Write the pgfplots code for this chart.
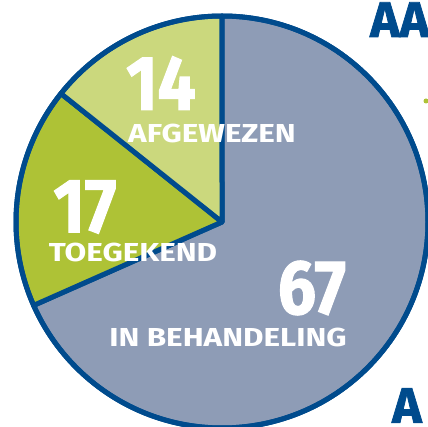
\documentclass[border=0pt]{standalone}
\usepackage{pgfplots}
\pgfplotsset{compat=1.18}
\usepackage{fontspec}
\setmainfont{Fira Sans}
\newfontfamily\heavy{Fira Sans Bold}[FakeBold=1.5]
\definecolor{pblue}{HTML}{004B8D}
\definecolor{pgrey}{HTML}{8E9CB6}
\definecolor{pgreen}{HTML}{AEC236}
\definecolor{plight}{HTML}{CBD87D}
\begin{document}
\begin{tikzpicture}
% data
\def\vA{67}% in behandeling
\def\vB{17}% toegekend
\def\vC{14}% afgewezen
\pgfmathsetmacro\tot{\vA+\vB+\vC}
\pgfmathsetmacro\aA{90}
\pgfmathsetmacro\aB{\aA-\vA/\tot*360}
\pgfmathsetmacro\aC{\aB-\vB/\tot*360}
\pgfmathsetmacro\aD{\aC-\vC/\tot*360}
\begin{axis}[scale only axis, width=428bp, height=427bp,
  xmin=0, xmax=428, ymin=0, ymax=427, hide axis, clip=true]
\addplot[draw=none] coordinates {(0,0) (428,427)};
\filldraw[fill=pgrey, draw=pblue, line width=5bp, line join=round]
  (axis cs:222,205) -- ++(\aA:206bp) arc[start angle=\aA, end angle=\aB, radius=206bp] -- cycle;
\filldraw[fill=pgreen, draw=pblue, line width=5bp, line join=round]
  (axis cs:222,205) -- ++(\aB:206bp) arc[start angle=\aB, end angle=\aC, radius=206bp] -- cycle;
\filldraw[fill=plight, draw=pblue, line width=5bp, line join=round]
  (axis cs:222,205) -- ++(\aC:206bp) arc[start angle=\aC, end angle=\aD, radius=206bp] -- cycle;
\draw[pblue, line width=5bp] (axis cs:222,205) circle[radius=206bp];
% labels
\node[white, inner sep=0, xscale=0.88] at (axis cs:161,344) {\fontsize{77bp}{77bp}\selectfont\heavy 14};
\node[white, inner sep=0, xscale=1.21] at (axis cs:212,294) {\fontsize{26bp}{26bp}\selectfont\bfseries AFGEWEZEN};
\node[white, inner sep=0, xscale=0.88] at (axis cs:85,220) {\fontsize{77bp}{77bp}\selectfont\heavy 17};
\node[white, inner sep=0, xscale=1.21] at (axis cs:133,175) {\fontsize{26bp}{26bp}\selectfont\bfseries TOEGEKEND};
\node[white, inner sep=0, xscale=0.88] at (axis cs:312,139) {\fontsize{77bp}{77bp}\selectfont\heavy 67};
\node[white, inner sep=0, xscale=1.21] at (axis cs:228,90) {\fontsize{26bp}{26bp}\selectfont\bfseries IN BEHANDELING};
% cut-off title fragments
\node[pblue, inner sep=0, anchor=base west] at (axis cs:370,390) {\fontsize{50bp}{50bp}\selectfont\heavy AA};
\node[pblue, inner sep=0, anchor=north west] at (axis cs:392,39) {\fontsize{50bp}{50bp}\selectfont\heavy A};
\fill[pgreen] (axis cs:426,326) circle[radius=2.5bp];
\end{axis}
\pgfresetboundingbox
\path (0,0) rectangle (428bp,427bp);
\end{tikzpicture}
\end{document}
